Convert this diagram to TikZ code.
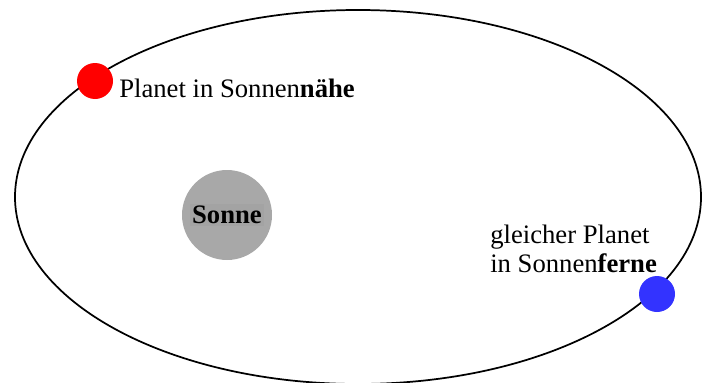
\documentclass[tikz,border=0pt]{standalone}
\usepackage{fontspec}
\setmainfont{Liberation Serif}
\definecolor{sungray}{HTML}{A8A8A8}
\definecolor{sunbox}{HTML}{A3A3A3}
\definecolor{planetred}{HTML}{FF0000}
\definecolor{planetblue}{HTML}{3333FF}
\begin{document}
\begin{tikzpicture}[x=0.75pt,y=-0.75pt,
  planet/.style={circle,minimum size=27pt,inner sep=0pt},
  lbl/.style={anchor=base west,inner sep=0pt,font=\fontsize{20}{21.75}\selectfont,align=left}]
\useasboundingbox (0,0) rectangle (712,382);
\draw[line width=1.3pt] (358,197) ellipse [x radius=257.25pt, y radius=140.25pt];
\node[circle,fill=sungray,minimum size=67.5pt,inner sep=0pt] (sun) at (227,215) {};
\node[fill=sunbox,inner sep=1.5pt,font=\fontsize{20}{22}\selectfont\bfseries] (sunlabel) at (sun.center) {Sonne};
\node[planet,fill=planetred] (near) at (95,81) {};
\node[planet,fill=planetblue] (far) at (657,294) {};
\node[lbl] (nearlabel) at (119,97) {Planet in Sonnen\textbf{nähe}};
\node[lbl] (farlabel) at (490,272) {gleicher Planet\\in Sonnen\textbf{ferne}};
\end{tikzpicture}
\end{document}
